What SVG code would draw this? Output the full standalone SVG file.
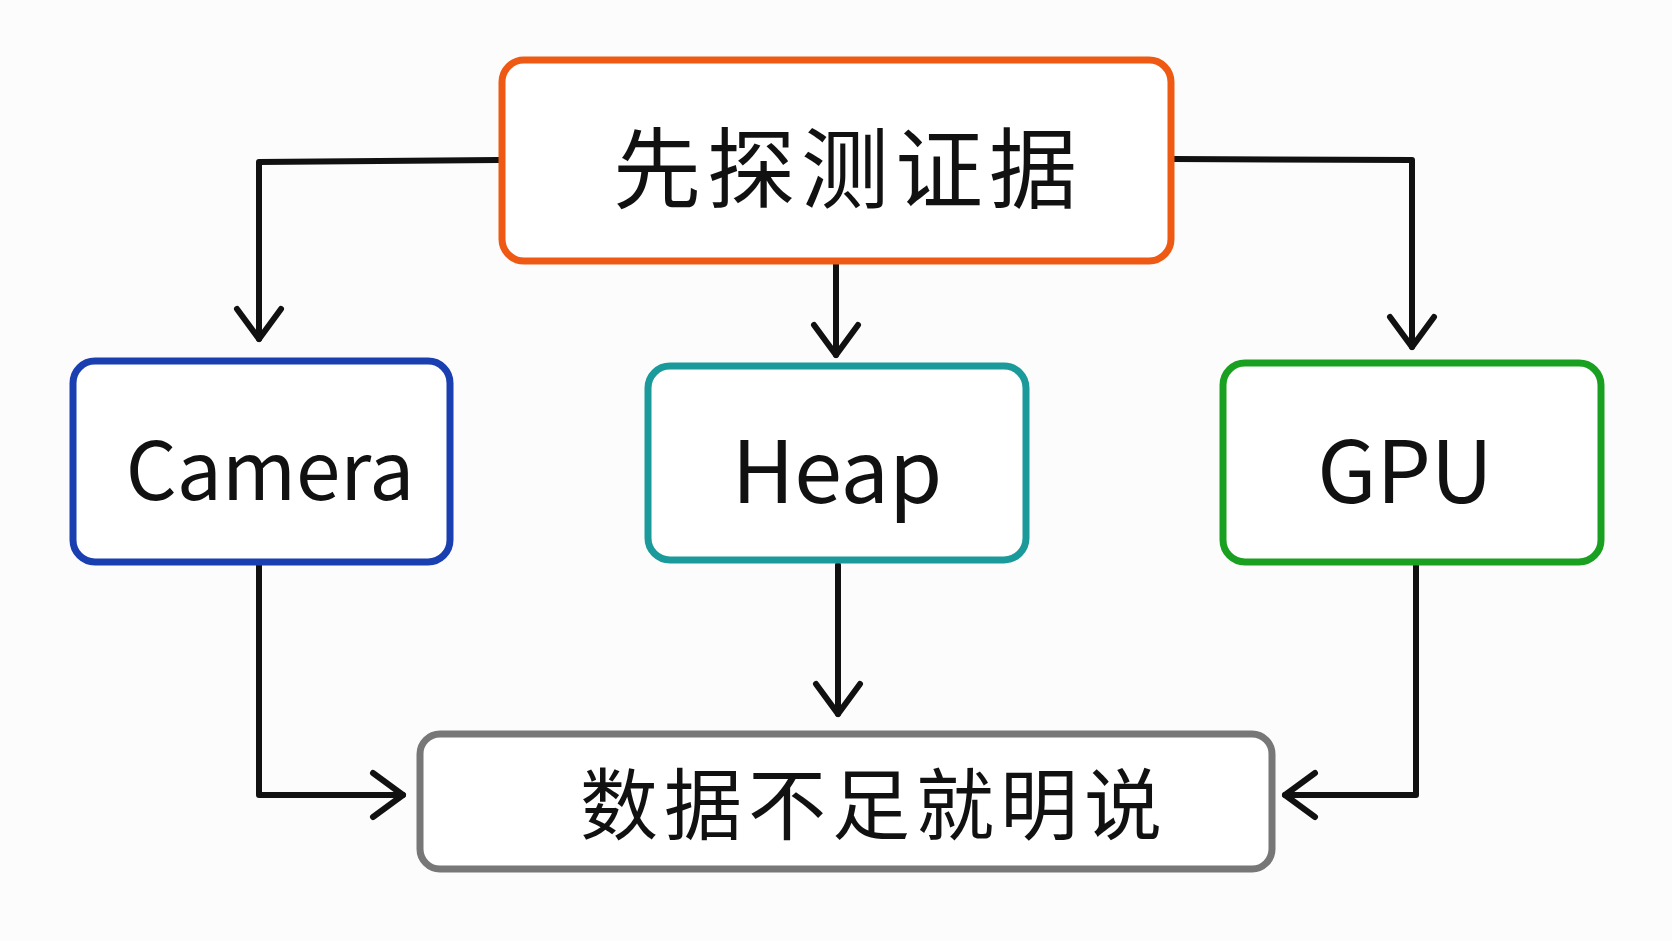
<svg xmlns="http://www.w3.org/2000/svg" width="1672" height="941" viewBox="0 0 1672 941">
<style>
.box{fill:#fff;stroke-width:7;stroke-linejoin:round}
.t{font-family:"Noto Sans CJK SC","Noto Sans",sans-serif;fill:#111;text-anchor:middle;dominant-baseline:central}
.c{fill:none;stroke:#111;stroke-width:6;stroke-linejoin:round;stroke-linecap:round}
</style>
<defs><marker id="a" markerUnits="userSpaceOnUse" markerWidth="60" markerHeight="60" refX="0" refY="0" viewBox="-40 -30 60 60" orient="auto" overflow="visible"><path d="M-30,-22 L0,0 L-30,22" fill="none" stroke="#111" stroke-width="6" stroke-linecap="round" stroke-linejoin="round"/></marker></defs>
<rect width="1672" height="941" fill="#fcfcfc"/>
<g id="connectors">
<path class="c" d="M499,160 L259,162 L259,339" marker-end="url(#a)"/>
<path class="c" d="M836,264 L836,355" marker-end="url(#a)"/>
<path class="c" d="M1173,159 L1412,160 L1412,347" marker-end="url(#a)"/>
<path class="c" d="M259,565 L259,795 L403,795" marker-end="url(#a)"/>
<path class="c" d="M838,565 L838,714" marker-end="url(#a)"/>
<path class="c" d="M1416,565 L1416,795 L1285,795" marker-end="url(#a)"/>
</g>
<g id="probe"><rect class="box" x="502" y="60" width="669" height="201" rx="22" stroke="#ee5a14"/><text class="t" x="848" y="162" font-size="88" letter-spacing="6">先探测证据</text></g>
<g id="camera"><rect class="box" x="73" y="361" width="377" height="201" rx="22" stroke="#1a3fb0"/><text class="t" x="270" y="465" font-size="80">Camera</text></g>
<g id="heap"><rect class="box" x="648" y="366" width="378" height="194" rx="22" stroke="#1a9a9a"/><text class="t" x="837" y="465" font-size="86">Heap</text></g>
<g id="gpu"><rect class="box" x="1223" y="363" width="378" height="199" rx="22" stroke="#1aa020"/><text class="t" x="1405" y="465" font-size="86">GPU</text></g>
<g id="result"><rect class="box" x="420" y="734" width="852" height="135" rx="20" stroke="#777"/><text class="t" x="874" y="800" font-size="78" letter-spacing="6">数据不足就明说</text></g>
</svg>
